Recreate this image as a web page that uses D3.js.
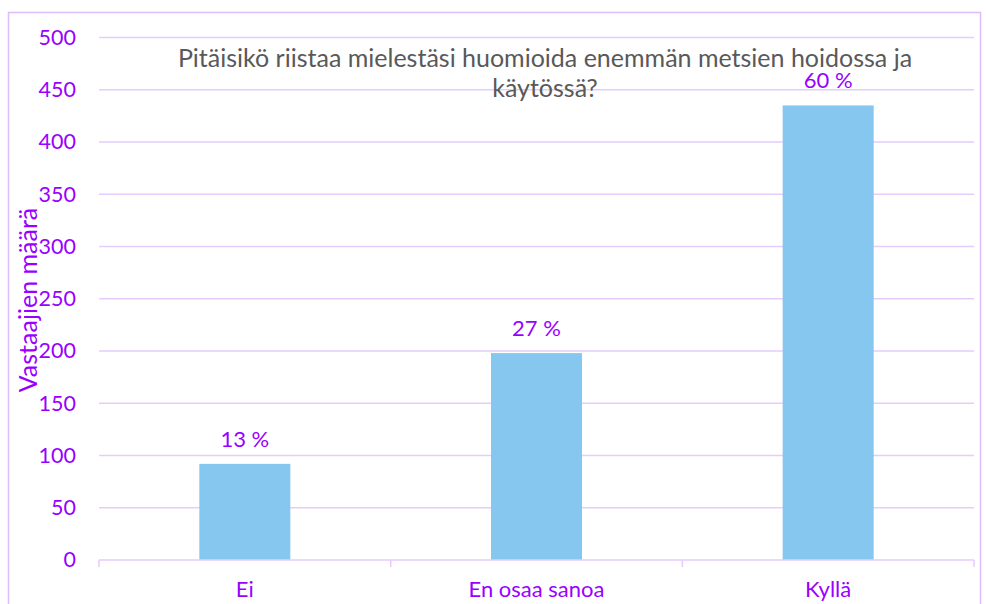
<!DOCTYPE html>
<html><head><meta charset="utf-8">
<script src="https://cdn.jsdelivr.net/npm/d3@7"></script>
<style>body{margin:0;background:#fff}svg{display:block}</style>
</head><body>
<script>
const categories = ["Ei", "En osaa sanoa", "Kyllä"];
const values = [92, 198, 435];
const percentLabels = ["13 %", "27 %", "60 %"];
const yTicks = [0, 50, 100, 150, 200, 250, 300, 350, 400, 450, 500];
const titleLines = ["Pitäisikö riistaa mielestäsi huomioida enemmän metsien hoidossa ja", "käytössä?"];
const yTitle = "Vastaajien määrä";

const W = 986, H = 604;
const purple = "#9900ff", grid = "#e6cbfd", border = "#dcbcfb";
const font = "Lato, 'Open Sans', sans-serif";
const svg = d3.select("body").append("svg").attr("width", W).attr("height", H);

svg.append("rect").attr("x", 8.5).attr("y", 12.5).attr("width", 972).attr("height", 600)
  .attr("fill", "none").attr("stroke", border).attr("stroke-width", 1.5);

const L = 99, R = 974, T = 37.5, B = 560;
const x = d3.scaleBand().domain(categories).range([L, R]).paddingInner(0.688).paddingOuter(0.344);
const y = d3.scaleLinear().domain([0, 500]).range([B, T]);

// gridlines
svg.append("g").selectAll("line").data(yTicks.filter(d => d > 0)).join("line")
  .attr("x1", L).attr("x2", R).attr("y1", d => y(d)).attr("y2", d => y(d))
  .attr("stroke", grid).attr("stroke-width", 1.5);

// y axis labels
const yAxis = svg.append("g").attr("transform", `translate(${L},0)`)
  .call(d3.axisLeft(y).tickValues(yTicks).tickSize(0).tickPadding(23));
yAxis.select(".domain").remove();
yAxis.selectAll("text").attr("fill", purple).style("font-family", font).style("font-size", "21.5px");

// bars
svg.append("g").selectAll("rect").data(values).join("rect")
  .attr("x", (d, i) => x(categories[i])).attr("width", x.bandwidth())
  .attr("y", d => y(d)).attr("height", d => B - y(d))
  .attr("fill", "#86c7f0");

// x axis
const bands = d3.scaleBand().domain(categories).range([L, R]);
const xg = svg.append("g");
xg.append("line").attr("x1", L).attr("x2", R).attr("y1", B).attr("y2", B).attr("stroke", grid).attr("stroke-width", 1.5);
const edges = categories.map(c => bands(c)).concat([R]);
xg.selectAll(".tk").data(edges).join("line").attr("class", "tk")
  .attr("x1", d => d).attr("x2", d => d).attr("y1", B).attr("y2", B + 7)
  .attr("stroke", grid).attr("stroke-width", 1.5);
xg.selectAll("text").data(categories).join("text")
  .attr("x", d => bands(d) + bands.bandwidth() / 2).attr("y", 597)
  .attr("text-anchor", "middle").attr("fill", purple)
  .style("font-family", font).style("font-size", "22px").text(d => d);

// data labels
svg.append("g").selectAll("text").data(values).join("text")
  .attr("x", (d, i) => x(categories[i]) + x.bandwidth() / 2).attr("y", d => y(d) - 17)
  .attr("text-anchor", "middle").attr("fill", purple)
  .style("font-family", font).style("font-size", "22px").text((d, i) => percentLabels[i]);

// title
svg.append("g").selectAll("text").data(titleLines).join("text")
  .attr("x", 545).attr("y", (d, i) => 67 + i * 30)
  .attr("text-anchor", "middle").attr("fill", "#595959")
  .style("font-family", font).style("font-size", "25px").text(d => d);

// y title
svg.append("text").attr("transform", `translate(37,300) rotate(-90)`)
  .attr("text-anchor", "middle").attr("fill", purple)
  .style("font-family", font).style("font-size", "25px").text(yTitle);
</script>
</body></html>
